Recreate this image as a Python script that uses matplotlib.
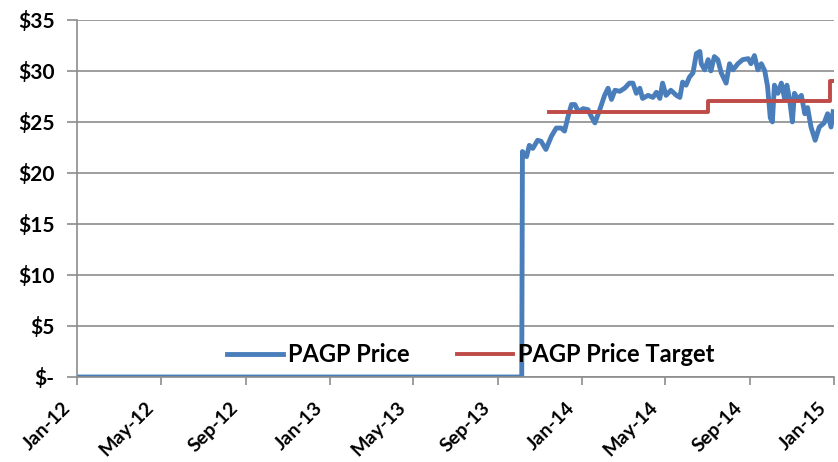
import pandas as pd
import matplotlib
matplotlib.use("Agg")
import matplotlib.pyplot as plt
import matplotlib.dates as mdates
import matplotlib.transforms as mtransforms

# PAGP price (0 before listing)
price_dates = [
    "2012-01-01", "2013-10-06", "2013-10-07", "2013-10-13", "2013-10-17", "2013-10-22",
    "2013-10-29", "2013-11-03", "2013-11-10", "2013-11-18", "2013-11-25", "2013-12-02",
    "2013-12-07", "2013-12-12", "2013-12-17", "2013-12-22", "2013-12-27", "2014-01-03",
    "2014-01-10", "2014-01-15", "2014-01-20", "2014-01-27", "2014-02-03", "2014-02-08",
    "2014-02-13", "2014-02-18", "2014-02-25", "2014-03-04", "2014-03-11", "2014-03-16",
    "2014-03-21", "2014-03-26", "2014-03-30", "2014-04-07", "2014-04-14", "2014-04-19",
    "2014-04-24", "2014-04-28", "2014-05-03", "2014-05-10", "2014-05-18", "2014-05-23",
    "2014-05-27", "2014-06-01", "2014-06-06", "2014-06-11", "2014-06-16", "2014-06-21",
    "2014-06-23", "2014-06-28", "2014-07-03", "2014-07-07", "2014-07-12", "2014-07-17",
    "2014-07-22", "2014-07-29", "2014-08-03", "2014-08-08", "2014-08-15", "2014-08-22",
    "2014-08-30", "2014-09-03", "2014-09-08", "2014-09-13", "2014-09-18", "2014-09-23",
    "2014-09-27", "2014-10-01", "2014-10-04", "2014-10-07", "2014-10-12", "2014-10-17",
    "2014-10-22", "2014-10-25", "2014-10-29", "2014-11-02", "2014-11-05", "2014-11-10",
    "2014-11-15", "2014-11-20", "2014-11-24", "2014-11-29", "2014-12-05", "2014-12-11",
    "2014-12-18", "2014-12-23", "2014-12-28", "2014-12-31",
]
price_values = [
    0, 0, 22.1, 21.6, 22.7, 22.4,
    23.2, 23.1, 22.3, 23.6, 24.4, 24.4,
    24.1, 25.5, 26.7, 26.7, 26.0, 26.3,
    26.2, 25.5, 24.9, 26.2, 27.6, 28.3,
    27.2, 28.1, 28.0, 28.3, 28.8, 28.8,
    27.8, 28.3, 27.3, 27.6, 27.4, 27.9,
    27.3, 28.8, 27.6, 28.1, 27.6, 27.4,
    28.9, 28.6, 29.4, 29.8, 31.7, 31.9,
    30.7, 30.1, 31.1, 30.0, 31.4, 31.1,
    29.8, 28.8, 30.7, 30.1, 30.7, 31.1,
    31.2, 30.7, 31.5, 30.1, 30.7, 30.0,
    28.5, 25.4, 25.0, 28.6, 27.8, 28.8,
    27.2, 28.6, 27.2, 25.0, 27.8, 27.2,
    27.6, 25.8, 26.4, 24.5, 23.2, 24.5,
    24.9, 25.8, 24.5, 26.0,
]

# price target steps
target_dates = ["2013-11-14", "2014-07-03", "2014-12-27", "2014-12-31"]
target_values = [26, 27, 29, 29]

y_ticks = [0, 5, 10, 15, 20, 25, 30, 35]
y_labels = ["$-", "$5", "$10", "$15", "$20", "$25", "$30", "$35"]

blue = "#4A7EBB"
red = "#BE4B48"
grid = "#8C8C8C"
font = "Lato"

fig = plt.figure(figsize=(8.38, 4.62), dpi=100)
ax = fig.add_axes([0.092, 0.184, 0.903, 0.773])

ax.plot(pd.to_datetime(price_dates), price_values, color=blue, lw=3.5,
        label="PAGP Price", solid_joinstyle="round")
ax.step(pd.to_datetime(target_dates), target_values, where="post", color=red,
        lw=2.8, label="PAGP Price Target")

ax.set_xlim(pd.Timestamp("2012-01-01"), pd.Timestamp("2015-01-01"))
ax.set_ylim(0, 35)
ax.set_yticks(y_ticks)
ax.set_yticklabels(y_labels)
ax.xaxis.set_major_locator(mdates.MonthLocator(bymonth=[1, 5, 9]))
ax.xaxis.set_major_formatter(mdates.DateFormatter("%b-%y"))

ax.grid(axis="y", color=grid, lw=1.2)
ax.set_axisbelow(True)
for s in ["top", "right"]:
    ax.spines[s].set_visible(False)
for s in ["left", "bottom"]:
    ax.spines[s].set_color(grid)
    ax.spines[s].set_linewidth(1.2)
ax.tick_params(axis="y", length=7, color=grid, width=1.2, pad=9)
ax.tick_params(axis="x", length=6, color=grid, width=1.2, pad=14)

for lab in ax.get_yticklabels():
    lab.set_fontfamily(font)
    lab.set_fontweight("bold")
    lab.set_fontsize(15)

# nudge the rotated date labels a little left so Jan-15 stays inside
shift = mtransforms.ScaledTranslation(-7 / 72, 0, fig.dpi_scale_trans)
for lab in ax.get_xticklabels():
    lab.set_fontfamily(font)
    lab.set_fontweight("bold")
    lab.set_fontsize(14)
    lab.set_rotation(45)
    lab.set_ha("right")
    lab.set_va("center")
    lab.set_rotation_mode("anchor")
    lab.set_transform(lab.get_transform() + shift)

ax.legend(loc="lower center", bbox_to_anchor=(0.52, -0.03), ncol=2, frameon=False,
          prop={"family": font, "weight": "bold", "size": 17},
          handlelength=2.4, columnspacing=2.0, handletextpad=0.2)

fig.savefig("out.png", dpi=100)
